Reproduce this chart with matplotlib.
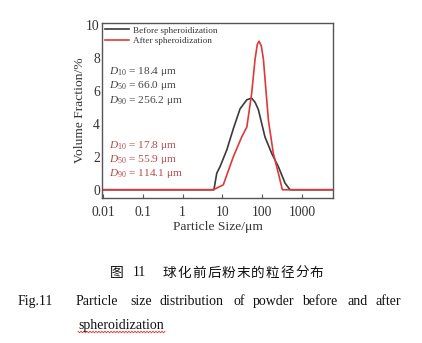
import numpy as np
import matplotlib
matplotlib.use("Agg")
import matplotlib.pyplot as plt
from matplotlib.ticker import LogLocator, FixedLocator, NullFormatter

# Particle size (um) and volume fraction (%) before spheroidization
size_before = [0.0095, 6.1, 7.2, 8.7, 12.8, 18.8, 27.7, 41, 54, 66, 80, 117, 173, 254, 374, 500, 6000]
frac_before = [0, 0, 1.0, 1.4, 2.4, 3.7, 4.9, 5.45, 5.55, 5.3, 4.85, 3.2, 2.2, 1.4, 0.4, 0, 0]

# Particle size (um) and volume fraction (%) after spheroidization
size_after = [0.0095, 5.9, 10.5, 18.8, 30.5, 41, 54, 66, 75, 83, 95, 107, 143, 190, 254, 320, 6000]
frac_after = [0, 0, 0.3, 2.0, 3.2, 3.8, 5.8, 7.9, 8.8, 9.0, 8.7, 7.9, 4.2, 2.2, 1.0, 0, 0]

x_ticks = [0.01, 0.1, 1, 10, 100, 1000]
x_tick_labels = ["0.01", "0.1", "1", "10", "100", "1000"]
y_ticks = [0, 2, 4, 6, 8, 10]

stats_before = [("10", "18.4"), ("50", "66.0"), ("90", "256.2")]
stats_after = [("10", "17.8"), ("50", "55.9"), ("90", "114.1")]

BLACK = "#3a3a3a"
RED = "#e0383a"
GRAY_TXT = "#444444"
RED_TXT = "#b84848"

SERIF = ["Liberation Serif", "DejaVu Serif"]
CJK = ["Noto Sans CJK SC", "DejaVu Sans"]

plt.rcParams["mathtext.fontset"] = "custom"
plt.rcParams["mathtext.rm"] = "Liberation Serif"
plt.rcParams["mathtext.it"] = "Liberation Serif:italic"

W, H = 422, 343
fig = plt.figure(figsize=(W / 100, H / 100), dpi=100)
fig.patch.set_facecolor("white")

left, right, top, bottom = 102, 333, 23, 198
ax = fig.add_axes([left / W, 1 - bottom / H, (right - left) / W, (bottom - top) / H])

ax.plot(size_before, frac_before, color=BLACK, lw=1.2, label="Before spheroidization")
ax.plot(size_after, frac_after, color=RED, lw=1.2, label="After spheroidization")

ax.set_xscale("log")
ax.set_xlim(0.0094, 6000)
ax.set_ylim(-0.5, 10.1)

ax.xaxis.set_major_locator(FixedLocator(x_ticks))
ax.set_xticklabels(x_tick_labels)
ax.xaxis.set_minor_locator(LogLocator(base=10, subs=np.arange(2, 10)))
ax.xaxis.set_minor_formatter(NullFormatter())
ax.set_yticks(y_ticks)

for sp in ax.spines.values():
    sp.set_color("#555555")
    sp.set_linewidth(1.0)

ax.tick_params(axis="x", which="major", direction="in", length=3, width=0.8,
               color="#555555", labelsize=9.8, pad=6)
ax.tick_params(axis="x", which="minor", direction="in", length=2, width=0.6, color="#555555")
ax.tick_params(axis="y", which="major", direction="in", length=0, labelsize=9.8, pad=1.5)
for lab in ax.get_xticklabels() + ax.get_yticklabels():
    lab.set_fontfamily(SERIF)
    lab.set_color("#333333")

ax.set_xlabel("Particle Size/\u03bcm", fontsize=9.7, family=SERIF, color="#333333", labelpad=1)
ax.set_ylabel("Volume Fraction/%", fontsize=9.7, family=SERIF, color="#333333", labelpad=0.5)

leg = ax.legend(loc="upper left", frameon=False, prop={"family": SERIF, "size": 6.6},
                handlelength=2.6, handletextpad=0.4, borderaxespad=0.15, labelspacing=0.2,
                borderpad=0.2)
for t in leg.get_texts():
    t.set_color("#333333")


# D10 / D50 / D90 statistics
def stat_lines(stats, y0, color):
    for i, (sub, val) in enumerate(stats):
        y_px = y0 + i * 14.3
        fig.text(109 / W, 1 - y_px / H, r"$\mathit{D}_{%s}$" % sub + " = %s \u03bcm" % val,
                 fontsize=8.2, family=SERIF, color=color, va="center", ha="left")


stat_lines(stats_before, 71.7, GRAY_TXT)
stat_lines(stats_after, 145, RED_TXT)

# Caption
fig.text(110 / W, 1 - 273 / H, "图", fontsize=10, family=CJK, va="center", ha="left", color="#111111")
fig.text(133 / W, 1 - 273 / H, "11", fontsize=9.8, family=SERIF, va="center", ha="left", color="#111111")
title_cn = "球化前后粉末的粒径分布"
for i, ch in enumerate(title_cn):
    fig.text((163 + i * 14.7) / W, 1 - 273 / H, ch, fontsize=9.8, family=CJK,
             va="center", ha="left", color="#111111")

words = [("Fig.11", 18), ("Particle", 76), ("size", 130), ("distribution", 160), ("of", 233),
         ("powder", 253), ("before", 302), ("and", 348), ("after", 375)]
for w, xp in words:
    fig.text(xp / W, 1 - 301.7 / H, w, fontsize=10, family=SERIF, va="center", ha="left",
             color="#111111")
fig.text(78 / W, 1 - 326 / H, "spheroidization", fontsize=10, family=SERIF, va="center",
         ha="left", color="#111111")

# spell-check squiggle under the last word
zx = np.arange(78, 166, 1.5)
zy = 332 + np.where(np.arange(len(zx)) % 2 == 0, -0.8, 0.8)
fig.add_artist(plt.Line2D(zx / W, 1 - zy / H, color="#e03030", lw=0.6, transform=fig.transFigure))

fig.savefig("out.png", dpi=100, facecolor="white")
